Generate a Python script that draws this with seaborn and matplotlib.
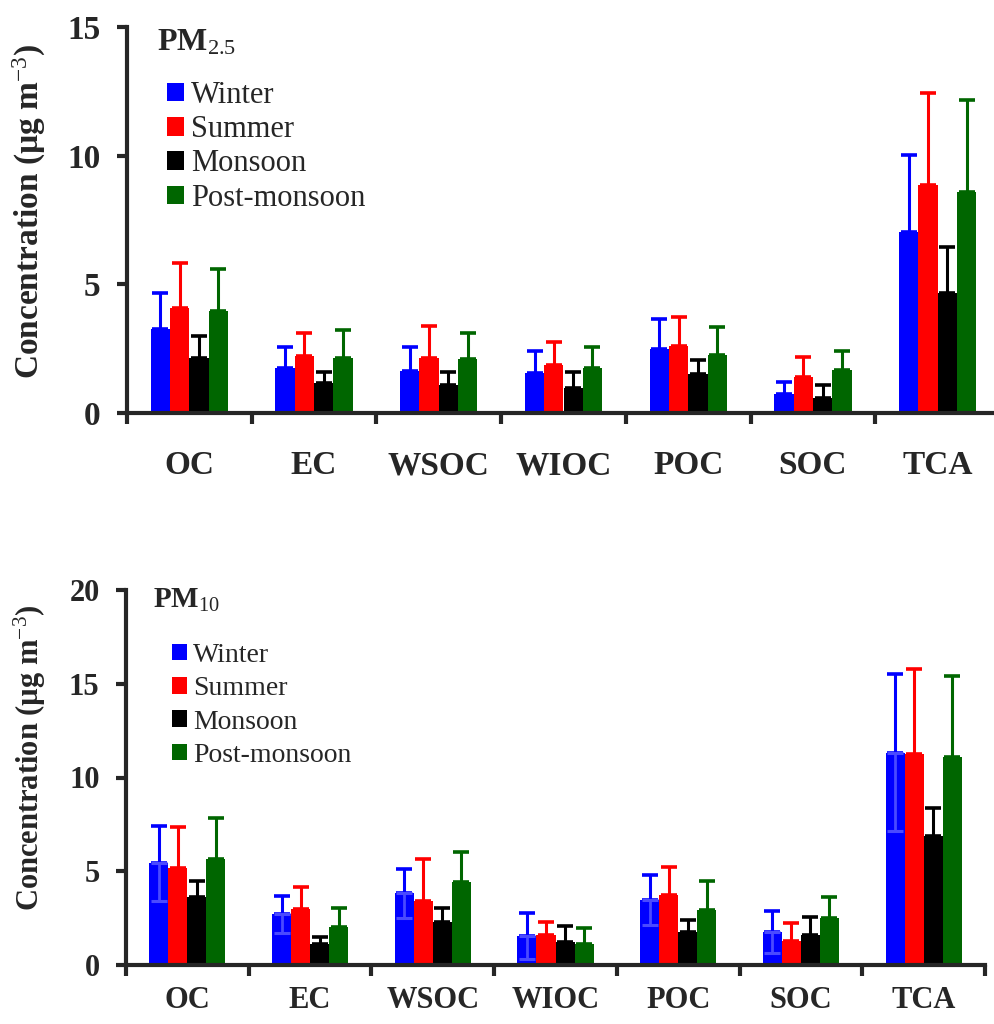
import numpy as np
import pandas as pd
import matplotlib
matplotlib.use("Agg")
import matplotlib.pyplot as plt
import seaborn as sns

categories = ["OC", "EC", "WSOC", "WIOC", "POC", "SOC", "TCA"]
seasons = ["Winter", "Summer", "Monsoon", "Post-monsoon"]
colors = ["#0000FF", "#FF0000", "#000000", "#006600"]

# PM2.5 means and (upper) standard deviations
pm25_winter = [3.26, 1.74, 1.63, 1.56, 2.49, 0.74, 7.03]
pm25_summer = [4.08, 2.22, 2.14, 1.87, 2.60, 1.40, 8.86]
pm25_monsoon = [2.14, 1.15, 1.09, 0.97, 1.52, 0.58, 4.66]
pm25_post = [3.97, 2.14, 2.10, 1.75, 2.25, 1.67, 8.60]
pm25_winter_err = [1.40, 0.83, 0.94, 0.85, 1.16, 0.46, 3.00]
pm25_summer_err = [1.75, 0.89, 1.24, 0.89, 1.13, 0.78, 3.58]
pm25_monsoon_err = [0.86, 0.45, 0.51, 0.62, 0.54, 0.51, 1.79]
pm25_post_err = [1.63, 1.09, 1.01, 0.82, 1.09, 0.74, 3.57]

# PM10 means and standard deviations
pm10_winter = [5.42, 2.70, 3.82, 1.55, 3.48, 1.75, 11.33]
pm10_summer = [5.16, 2.97, 3.43, 1.61, 3.75, 1.29, 11.28]
pm10_monsoon = [3.61, 1.10, 2.28, 1.21, 1.75, 1.61, 6.87]
pm10_post = [5.65, 2.01, 4.41, 1.12, 2.95, 2.53, 11.07]
pm10_winter_err = [2.02, 1.00, 1.30, 1.23, 1.34, 1.12, 4.17]
pm10_summer_err = [2.22, 1.17, 2.21, 0.71, 1.48, 0.94, 4.52]
pm10_monsoon_err = [0.87, 0.41, 0.74, 0.88, 0.66, 0.94, 1.52]
pm10_post_err = [2.17, 1.01, 1.60, 0.88, 1.51, 1.09, 4.32]

sns.set_style("ticks")
plt.rcParams["font.family"] = ["Liberation Serif", "DejaVu Serif"]
plt.rcParams["mathtext.fontset"] = "custom"
plt.rcParams["mathtext.rm"] = "Liberation Serif"
plt.rcParams["mathtext.bf"] = "Liberation Serif:bold"
plt.rcParams["mathtext.it"] = "Liberation Serif:italic"

fig = plt.figure(figsize=(9.94, 10.24), dpi=100)
W, H = 994, 1024


def panel(rect_px, means, errs, lowers, lower_colors, ymax, yticks, title, title_xy,
          leg_xy, ylab_xy, xpad, fs, leg_fs, leg_sp):
    left, top, right, bottom = rect_px
    ax = fig.add_axes([left / W, 1 - bottom / H, (right - left) / W, (bottom - top) / H])
    rows = []
    for s, m in zip(seasons, means):
        for c, v in zip(categories, m):
            rows.append({"category": c, "season": s, "value": v})
    df = pd.DataFrame(rows)
    sns.barplot(data=df, x="category", y="value", hue="season", order=categories,
                hue_order=seasons, palette=colors, width=0.62, errorbar=None,
                saturation=1, legend=False, ax=ax, zorder=2,
                linewidth=0, edgecolor="none")
    for cont, m, e, lo, col, lcol in zip(ax.containers, means, errs, lowers, colors, lower_colors):
        xs = [p.get_x() + p.get_width() / 2 for p in cont]
        ax.errorbar(xs, m, yerr=[np.zeros(len(m)), e], fmt="none", ecolor=col,
                    elinewidth=2.2, capsize=5.5, capthick=2.6, zorder=3)
        if lo is not None:
            ax.errorbar(xs, m, yerr=[lo, np.zeros(len(m))], fmt="none", ecolor=lcol,
                        elinewidth=2.0, capsize=5.5, capthick=2.2, zorder=3)
    ax.set_xlim(-0.5, 6.5)
    ax.set_ylim(0, ymax)
    ax.set_yticks(yticks)
    ax.set_yticklabels([str(t) for t in yticks], fontsize=fs, fontweight="bold")
    ax.set_xticks(range(len(categories)))
    ax.set_xticklabels(categories, fontsize=fs, fontweight="bold")
    ax.set_xticks(np.arange(-0.5, 7, 1), minor=True)
    ax.tick_params(axis="x", which="major", length=0, pad=xpad)
    ax.tick_params(axis="x", which="minor", length=8, width=3, direction="out")
    ax.tick_params(axis="y", which="major", length=7, width=3, direction="out", pad=12)
    for side in ["top", "right"]:
        ax.spines[side].set_visible(False)
    for side in ["left", "bottom"]:
        ax.spines[side].set_linewidth(3)
    ax.set_xlabel("")
    ax.set_ylabel(r"Concentration (µg m$^{\mathrm{-3}}$)", fontsize=fs, fontweight="bold",
                  va="center", ha="center")
    ax.yaxis.set_label_coords(*ylab_xy)
    ax.text(title_xy[0], title_xy[1], title, transform=ax.transAxes, fontsize=fs - 1,
            ha="left", va="baseline")
    ax.legend(ax.containers, seasons, loc="upper left", bbox_to_anchor=leg_xy,
              frameon=False, fontsize=leg_fs, handlelength=0.55, handleheight=0.55,
              handletextpad=0.22, labelspacing=leg_sp, borderpad=0, borderaxespad=0)
    return ax


panel((127, 27, 1000, 413),
      [pm25_winter, pm25_summer, pm25_monsoon, pm25_post],
      [pm25_winter_err, pm25_summer_err, pm25_monsoon_err, pm25_post_err],
      [None, None, None, None], colors, 15, [0, 5, 10, 15],
      r"$\mathbf{PM}_{\mathrm{2.5}}$", (0.034, 0.94), (0.046, 0.86), (-0.112, 0.523),
      27, 24, 22, 0.17)

panel((126, 590, 985, 965),
      [pm10_winter, pm10_summer, pm10_monsoon, pm10_post],
      [pm10_winter_err, pm10_summer_err, pm10_monsoon_err, pm10_post_err],
      [pm10_winter_err, None, None, None], ["#4a4aff"] + colors[1:], 20, [0, 5, 10, 15, 20],
      r"$\mathbf{PM}_{\mathrm{10}}$", (0.031, 0.952), (0.0535, 0.859), (-0.112, 0.552),
      15, 22, 20, 0.3)

fig.savefig("out.png", dpi=100)
